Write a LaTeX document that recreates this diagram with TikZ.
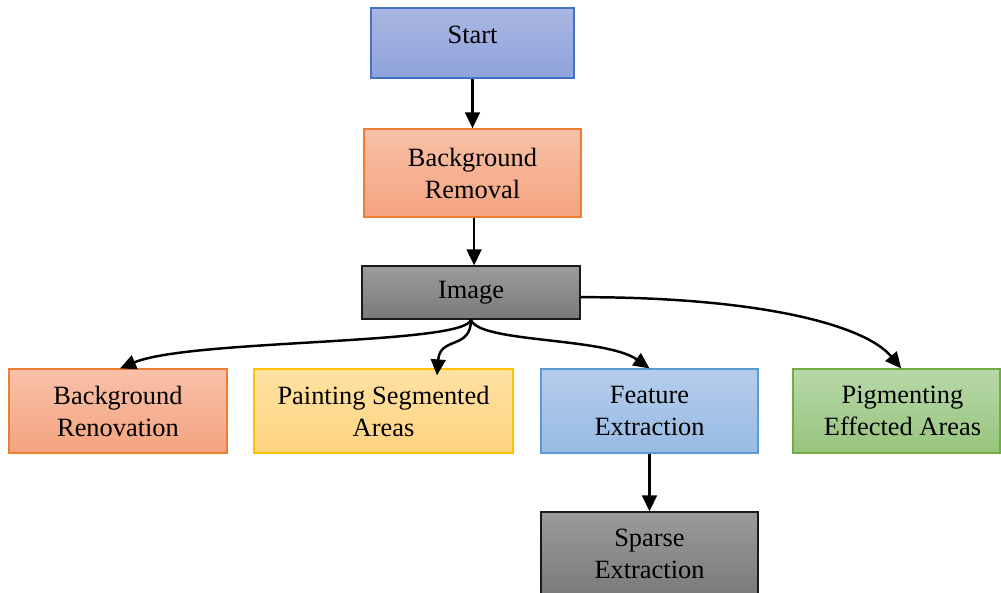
\documentclass[tikz,border=0pt]{standalone}
\usepackage{fontspec}
\setmainfont{Liberation Serif}
\usetikzlibrary{arrows.meta,shadings}

\definecolor{blueT}{HTML}{AAB6E2}\definecolor{blueB}{HTML}{8EA3DB}\definecolor{blueL}{HTML}{4472C4}
\definecolor{orT}{HTML}{F8C1A8}\definecolor{orB}{HTML}{F4A37F}\definecolor{orL}{HTML}{ED7D31}
\definecolor{grT}{HTML}{9B9B9B}\definecolor{grB}{HTML}{7A7A7A}\definecolor{grL}{HTML}{1A1A1A}
\definecolor{yeT}{HTML}{FFE1A3}\definecolor{yeB}{HTML}{FFD480}\definecolor{yeL}{HTML}{FFC000}
\definecolor{lbT}{HTML}{B5CDEB}\definecolor{lbB}{HTML}{98BAE4}\definecolor{lbL}{HTML}{5B9BD5}
\definecolor{gnT}{HTML}{B7D8A9}\definecolor{gnB}{HTML}{98C47D}\definecolor{gnL}{HTML}{70AD47}

\tikzset{
  box/.style={rectangle, line width=0.9pt, align=center, inner sep=0pt,
    font=\fontsize{19.8pt}{24pt}\selectfont},
  boxsize/.style 2 args={minimum width={#1*0.75pt}, minimum height={#2*0.75pt}},
  bluebox/.style={box, draw=blueL, top color=blueT, bottom color=blueB},
  orangebox/.style={box, draw=orL, top color=orT, bottom color=orB},
  graybox/.style={box, draw=grL, top color=grT, bottom color=grB},
  yellowbox/.style={box, draw=yeL, top color=yeT, bottom color=yeB},
  lightbluebox/.style={box, draw=lbL, top color=lbT, bottom color=lbB},
  greenbox/.style={box, draw=gnL, top color=gnT, bottom color=gnB},
  link/.style={line width=1.85pt, -{Triangle[length=12pt, width=11pt]}}
}

\begin{document}
\begin{tikzpicture}[x=0.75pt, y=-0.75pt]
\useasboundingbox (0,0) rectangle (1001,593);

% process boxes
\node[bluebox, boxsize={203}{70}] (start) at (472.5,43) {\raisebox{13pt}{Start}};
\node[orangebox, boxsize={217}{88}] (brem) at (472.5,173) {Background\\Removal};
\node[graybox, boxsize={218}{53}] (image) at (471,292.5) {\raisebox{-4pt}{Image}};
\node[orangebox, boxsize={218}{84}] (bren) at (118,411) {Background\\Renovation};
\node[yellowbox, boxsize={259}{84}] (paint) at (383.5,411) {Painting Segmented\\Areas};
\node[lightbluebox, boxsize={217}{84}] (feat) at (649.5,411) {Feature\\Extraction};
\node[greenbox, boxsize={207}{84}] (pigm) at (896.5,411) {\hspace*{9pt}Pigmenting\\\hspace*{9pt}Effected Areas};
\node[graybox, boxsize={217}{84}] (sparse) at (649.5,554) {Sparse\\Extraction};

% connectors
\draw[link] (start.south) -- (brem.north);
\draw[link] ([xshift=1.2pt]brem.south) -- ([xshift=1.2pt]brem.south |- image.north);
\draw[link] (image.south) .. controls (466,345) and (190,339) .. ([xshift=1.5pt]bren.north);
\draw[link] (image.south) .. controls (471,350) and (440,336) .. ([shift={(53.5,7)}]paint.north);
\draw[link] (image.south) .. controls (478,343) and (605,337) .. (feat.north);
\draw[link] ([yshift=-3.5pt]image.east) .. controls (760,297) and (865,325) .. ([xshift=3.5pt]pigm.north);
\draw[link] (feat.south) -- (sparse.north);
\end{tikzpicture}
\end{document}
